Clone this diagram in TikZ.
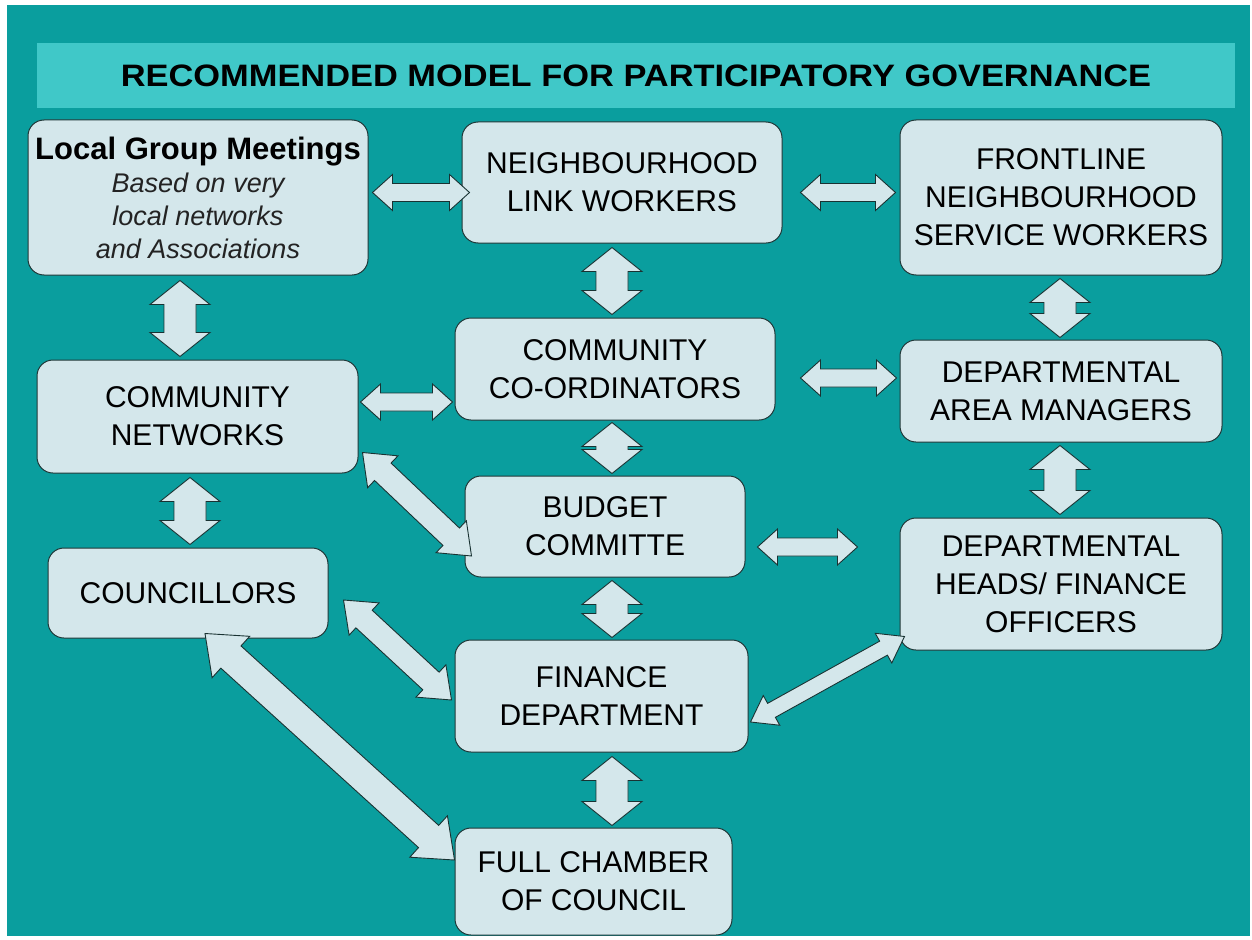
\documentclass[tikz,border=0pt]{standalone}
\usepackage{fontspec}
\setmainfont{Liberation Sans}
\usetikzlibrary{calc}
\definecolor{bgteal}{RGB}{10,158,158}
\definecolor{titlefill}{RGB}{64,200,200}
\definecolor{boxfill}{RGB}{212,231,235}
\definecolor{boxline}{RGB}{30,55,55}
\definecolor{arrline}{RGB}{25,50,50}
\definecolor{subtext}{RGB}{35,35,35}
\tikzset{
  box/.style={draw=boxline, line width=1pt, fill=boxfill, rounded corners=16pt,
    align=center, inner sep=0pt, font=\fontsize{30}{38}\selectfont},
  blockarr/.style={draw=arrline, line width=0.9pt, fill=boxfill, line join=miter},
}
% double block arrow: #1 start, #2 end, #3 shaft half width, #4 head half width, #5 head length
\newcommand{\dblarr}[5]{%
  \path #1 coordinate (dA) #2 coordinate (dB);%
  \pgfpointdiff{\pgfpointanchor{dA}{center}}{\pgfpointanchor{dB}{center}}%
  \pgfgetlastxy{\dX}{\dY}%
  \pgfmathsetmacro\dAng{atan2(\dY,\dX)}%
  \pgfmathsetmacro\dLen{veclen(\dX,\dY)}%
  \pgfmathsetmacro\dEnd{\dLen-#5}%
  \begin{scope}[shift={(dA)}, rotate=\dAng]
    \draw[blockarr] (0,0) -- (#5,#4) -- (#5,#3) -- (\dEnd,#3) -- (\dEnd,#4) -- (\dLen,0)
      -- (\dEnd,-#4) -- (\dEnd,-#3) -- (#5,-#3) -- (#5,-#4) -- cycle;
  \end{scope}}
\begin{document}
\begin{tikzpicture}[x=1pt, y=-1pt]
  \useasboundingbox (0,0) rectangle (1252,939);
  \fill[white] (0,0) rectangle (1252,939);
  \fill[bgteal] (7,5) rectangle (1250,936);
  % title bar
  \node[fill=titlefill, minimum width=1198pt, minimum height=65pt, inner sep=0pt] (title) at (636,75.5)
    {\fontsize{31}{36}\selectfont\bfseries\scalebox{1.11}[1]{RECOMMENDED MODEL FOR PARTICIPATORY GOVERNANCE}};
  % boxes
  \node[box, minimum width=340pt, minimum height=155pt, font=\fontsize{27}{33}\selectfont] (lgm) at (198,197.5)
    {{\fontsize{31}{33}\selectfont\bfseries Local Group Meetings}\\
     {\color{subtext}\itshape Based on very}\\
     {\color{subtext}\itshape local networks}\\
     {\color{subtext}\itshape and Associations}};
  \node[box, minimum width=320pt, minimum height=121pt] (nlw) at (622,182.5) {NEIGHBOURHOOD\\LINK WORKERS};
  \node[box, minimum width=322pt, minimum height=155pt] (fnt) at (1061,197.5) {FRONTLINE\\NEIGHBOURHOOD\\SERVICE WORKERS};
  \node[box, minimum width=321pt, minimum height=113pt] (cn) at (197.5,416.5) {COMMUNITY\\NETWORKS};
  \node[box, minimum width=320pt, minimum height=102pt] (cc) at (615,369) {COMMUNITY\\CO-ORDINATORS};
  \node[box, minimum width=322pt, minimum height=102pt] (dam) at (1061,391) {DEPARTMENTAL\\AREA MANAGERS};
  \node[box, minimum width=280pt, minimum height=101pt] (bc) at (605,526.5) {BUDGET\\COMMITTE};
  \node[box, minimum width=280pt, minimum height=90pt] (cou) at (188,593) {COUNCILLORS};
  \node[box, minimum width=322pt, minimum height=132pt] (dh) at (1061,584) {DEPARTMENTAL\\HEADS/ FINANCE\\OFFICERS};
  \node[box, minimum width=293pt, minimum height=112pt] (fd) at (601.5,696) {FINANCE\\DEPARTMENT};
  \node[box, minimum width=277pt, minimum height=107pt] (fc) at (593.5,881.5) {FULL CHAMBER\\OF COUNCIL};
  % arrows
  \dblarr{($(lgm.east)+(4,-5)$)}{($(nlw.west)+(8,10)$)}{9}{18}{20}
  \dblarr{($(nlw.east)+(18,10)$)}{($(fnt.west)+(-4,-5)$)}{9}{18}{20}
  \dblarr{($(lgm.south)+(-18,5)$)}{($(cn.north)+(-17.5,-3)$)}{16}{30}{24}
  \dblarr{($(nlw.south)+(-10,4)$)}{($(cc.north)+(-3,-3)$)}{16}{30}{24}
  \dblarr{($(fnt.south)+(-1,3)$)}{($(dam.north)+(-1,-2)$)}{16}{30}{24}
  \dblarr{($(cn.east)+(2,-14.5)$)}{($(cc.west)+(-2,33)$)}{9}{18}{20}
  \dblarr{($(cc.east)+(25,9)$)}{($(dam.west)+(-3,-13)$)}{9}{18}{20}
  \dblarr{($(cc.south)+(-3,2)$)}{($(bc.north)+(7,-2)$)}{16}{30}{24}
  \dblarr{($(dam.south)+(-1,3)$)}{($(dh.north)+(-1,-3)$)}{16}{30}{24}
  \dblarr{($(cn.east)+(4,36)$)}{($(bc.west)+(7,29.5)$)}{12}{22}{28}
  \dblarr{($(cn.south)+(-7.5,4)$)}{($(cou.north)+(2,-3)$)}{16}{30}{24}
  \dblarr{($(bc.east)+(12,20.5)$)}{($(dh.west)+(-42,-37)$)}{9}{18}{20}
  \dblarr{($(bc.south)+(7,3)$)}{($(fd.north)+(10.5,-2)$)}{16}{30}{24}
  \dblarr{($(cou.east)+(15,7)$)}{($(fd.west)+(-3,4)$)}{12}{22}{28}
  \dblarr{($(dh.south west)+(5,-14)$)}{($(fd.east)+(2,26)$)}{8}{17}{24}
  \dblarr{($(fd.south)+(10.5,4)$)}{($(fc.north)+(18.5,-2)$)}{16}{30}{24}
  \dblarr{($(cou.south)+(17,-5)$)}{($(fc.west)+(0,-21.5)$)}{15}{28}{35}
\end{tikzpicture}
\end{document}
